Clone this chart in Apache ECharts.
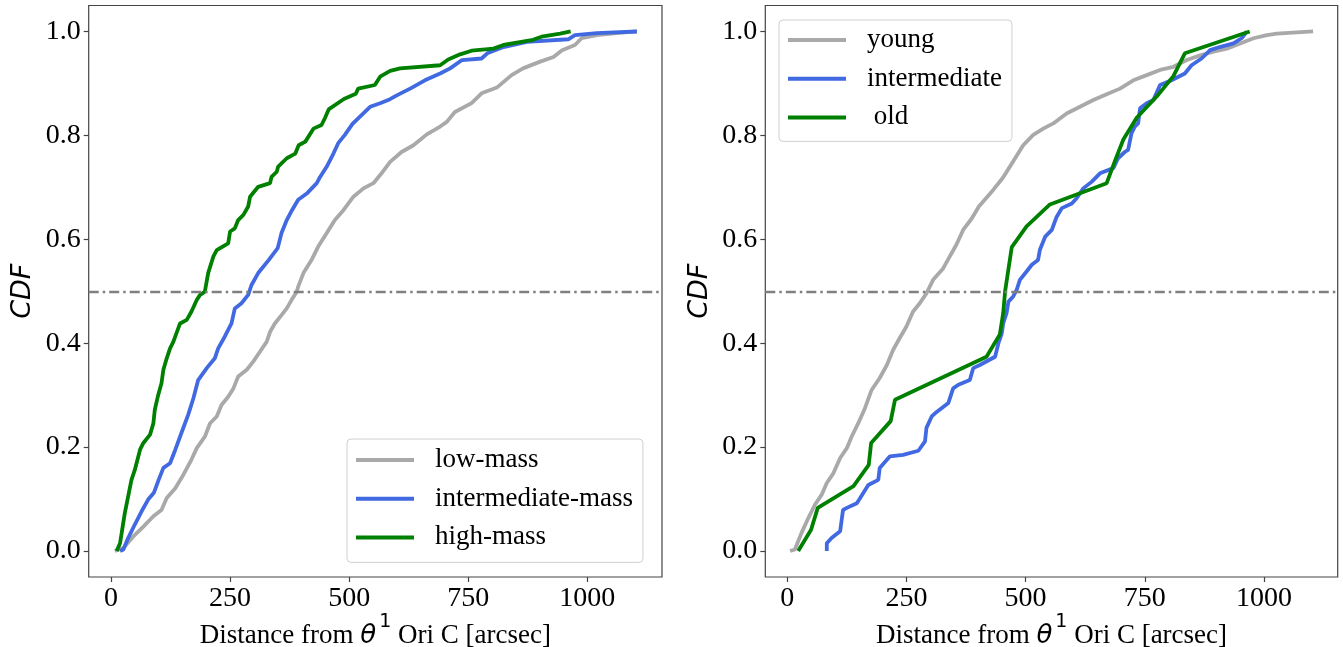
<!DOCTYPE html>
<html>
<head>
<meta charset="utf-8">
<title>CDF of distances from θ1 Ori C</title>
<script src="https://cdn.jsdelivr.net/npm/echarts@6/dist/echarts.min.js"></script>
<style>
  html, body { margin: 0; padding: 0; background: #fff; }
  #chart { width: 1343px; height: 647px; }
</style>
</head>
<body>
<div id="chart"></div>
<script>
// Tick labels
const xTicks = [0, 250, 500, 750, 1000];
const yTicks = [0.0, 0.2, 0.4, 0.6, 0.8, 1.0];

// Left panel: CDF by mass class, [distance (arcsec), CDF]
const lowMass = [[8,0],[26,0.006],[47,0.028],[68,0.047],[89,0.067],[106,0.079],[117,0.102],[135,0.121],[152,0.147],[169,0.176],[180,0.198],[197,0.220],[208,0.246],[222,0.259],[232,0.281],[246,0.297],[257,0.313],[267,0.336],[285,0.349],[299,0.365],[313,0.384],[327,0.403],[334,0.422],[344,0.438],[358,0.454],[369,0.467],[379,0.483],[390,0.499],[393,0.509],[404,0.535],[421,0.560],[435,0.586],[453,0.612],[470,0.637],[488,0.656],[509,0.682],[530,0.698],[551,0.708],[568,0.727],[586,0.749],[610,0.768],[635,0.781],[663,0.802],[691,0.817],[705,0.826],[722,0.845],[757,0.862],[778,0.881],[810,0.892],[841,0.916],[865,0.929],[901,0.942],[929,0.951],[947,0.964],[974,0.974],[988,0.987],[1020,0.993],[1062,0.997],[1104,1.0]];

const intermediateMass = [[19,0],[26,0.003],[36,0.025],[50,0.051],[64,0.076],[78,0.099],[90,0.112],[100,0.137],[110,0.160],[124,0.169],[135,0.195],[149,0.230],[162,0.262],[173,0.294],[183,0.329],[201,0.352],[218,0.371],[225,0.390],[239,0.413],[253,0.438],[260,0.467],[274,0.477],[288,0.493],[295,0.512],[309,0.535],[331,0.560],[350,0.583],[358,0.612],[369,0.637],[380,0.656],[393,0.676],[411,0.688],[432,0.708],[439,0.720],[453,0.740],[467,0.765],[477,0.785],[491,0.801],[507,0.822],[526,0.839],[544,0.855],[565,0.862],[582,0.868],[600,0.877],[630,0.891],[659,0.906],[691,0.919],[712,0.929],[737,0.945],[778,0.948],[790,0.958],[824,0.970],[873,0.980],[960,0.985],[974,0.993],[1020,0.997],[1104,1.0]];

const highMass = [[12,0],[19,0.015],[29,0.073],[43,0.137],[50,0.156],[61,0.195],[68,0.208],[82,0.224],[89,0.246],[92,0.272],[99,0.300],[106,0.323],[110,0.349],[117,0.371],[124,0.390],[131,0.403],[145,0.438],[159,0.445],[169,0.461],[180,0.483],[187,0.493],[197,0.499],[204,0.535],[215,0.567],[222,0.579],[246,0.592],[250,0.615],[260,0.621],[267,0.637],[278,0.647],[288,0.663],[292,0.682],[309,0.701],[334,0.708],[337,0.720],[348,0.730],[351,0.740],[369,0.756],[387,0.765],[394,0.781],[408,0.788],[425,0.813],[442,0.820],[449,0.833],[457,0.850],[489,0.870],[514,0.880],[519,0.890],[554,0.897],[565,0.913],[586,0.924],[607,0.929],[691,0.935],[708,0.946],[733,0.956],[757,0.963],[803,0.967],[824,0.974],[886,0.984],[904,0.990],[943,0.996],[965,1.0]];

// Right panel: CDF by age class
const young = [[6,0],[16,0.003],[30,0.035],[44,0.063],[58,0.089],[72,0.108],[83,0.131],[97,0.150],[111,0.179],[125,0.198],[135,0.220],[149,0.246],[163,0.275],[177,0.310],[194,0.333],[209,0.358],[222,0.387],[236,0.410],[250,0.432],[264,0.461],[278,0.477],[292,0.496],[306,0.522],[327,0.544],[341,0.567],[355,0.590],[369,0.618],[387,0.640],[402,0.663],[432,0.695],[452,0.718],[474,0.750],[495,0.781],[516,0.801],[537,0.813],[558,0.823],[586,0.842],[614,0.855],[642,0.868],[670,0.879],[698,0.890],[726,0.906],[754,0.916],[782,0.926],[810,0.932],[838,0.945],[866,0.954],[894,0.961],[922,0.967],[950,0.977],[978,0.987],[1006,0.993],[1027,0.996],[1103,1.0]];

const intermediateAge = [[83,0],[83,0.015],[93,0.025],[111,0.038],[117,0.079],[125,0.083],[146,0.092],[153,0.102],[170,0.127],[191,0.137],[194,0.160],[215,0.182],[243,0.185],[275,0.193],[289,0.211],[292,0.237],[303,0.259],[310,0.265],[338,0.285],[348,0.313],[359,0.320],[383,0.329],[390,0.352],[404,0.358],[436,0.374],[443,0.400],[450,0.419],[453,0.438],[460,0.458],[464,0.480],[474,0.490],[481,0.502],[488,0.522],[502,0.538],[513,0.551],[526,0.560],[530,0.580],[541,0.605],[555,0.618],[565,0.643],[576,0.660],[597,0.669],[607,0.679],[621,0.698],[639,0.711],[656,0.727],[684,0.737],[694,0.756],[708,0.768],[715,0.772],[722,0.804],[729,0.817],[736,0.823],[740,0.852],[754,0.862],[768,0.868],[782,0.897],[806,0.906],[834,0.919],[848,0.935],[869,0.948],[887,0.964],[907,0.970],[936,0.977],[953,0.987],[964,1.0]];

const old = [[23,0],[50,0.041],[64,0.083],[139,0.125],[171,0.166],[176,0.208],[217,0.250],[226,0.291],[418,0.374],[446,0.417],[453,0.458],[457,0.500],[471,0.585],[502,0.625],[551,0.667],[670,0.708],[687,0.750],[705,0.792],[733,0.834],[775,0.875],[810,0.914],[834,0.958],[970,1.0]];

const medianLevel = 0.5;

const GRAY = '#a9a9a9', BLUE = '#4169e1', GREEN = '#008000';
const SERIF = 'Liberation Serif';

const chart = echarts.init(document.getElementById('chart'), null, { renderer: 'canvas' });

function xAxisFor(gridIndex, min, max) {
  return {
    gridIndex, type: 'value', min, max,
    name: '{a|Distance from }{t|θ}{s|1}{a| Ori C [arcsec]}',
    nameLocation: 'middle', nameGap: 36, nameMoveOverlap: false,
    nameTextStyle: {
      rich: {
        a: { fontFamily: SERIF, fontSize: 27, color: '#000', lineHeight: 46 },
        t: { fontFamily: 'DejaVu Sans', fontStyle: 'italic', fontSize: 26, color: '#000', lineHeight: 46 },
        s: { fontFamily: 'DejaVu Sans', fontSize: 19, color: '#000', lineHeight: 20, verticalAlign: 'top', padding: [0, 0, 0, 3] }
      }
    },
    axisLine: { show: false, onZero: false },
    axisTick: { show: true, inside: false, length: 5, lineStyle: { color: '#444', width: 1.2 }, customValues: xTicks },
    axisLabel: { show: true, customValues: xTicks, fontFamily: SERIF, fontSize: 28, color: '#000', margin: 8,
      formatter: v => String(v) },
    splitLine: { show: false }
  };
}
function yAxisFor(gridIndex) {
  return {
    gridIndex, type: 'value', min: -0.05, max: 1.05,
    name: 'CDF', nameLocation: 'middle', nameGap: 52, nameRotate: 90, nameMoveOverlap: false,
    nameTextStyle: { fontFamily: 'DejaVu Sans', fontStyle: 'italic', fontSize: 27, color: '#000' },
    axisLine: { show: false, onZero: false },
    axisTick: { show: true, inside: false, length: 5, lineStyle: { color: '#444', width: 1.2 }, customValues: yTicks },
    axisLabel: { show: true, customValues: yTicks, fontFamily: SERIF, fontSize: 28, color: '#000', margin: 8,
      formatter: v => v.toFixed(1) },
    splitLine: { show: false }
  };
}
function curve(name, data, color, idx) {
  return {
    name, type: 'line', data, xAxisIndex: idx, yAxisIndex: idx,
    color, symbol: 'none', showSymbol: false, smooth: false,
    lineStyle: { color, width: 3.8 }, emphasis: { disabled: true }, animation: false
  };
}
function medianLine(idx) {
  return {
    type: 'line', data: [], xAxisIndex: idx, yAxisIndex: idx, animation: false,
    markLine: {
      silent: true, symbol: 'none', label: { show: false },
      lineStyle: { color: '#808080', width: 2.4, type: [10, 4, 2.5, 4] },
      data: [{ yAxis: medianLevel }], animation: false
    }
  };
}
const legendBase = {
  orient: 'vertical', icon: 'rect', itemWidth: 58, itemHeight: 4, itemGap: 8.7,
  backgroundColor: 'rgba(255,255,255,0.8)', borderColor: '#d0d0d0', borderWidth: 1, borderRadius: 4,
  textStyle: { fontFamily: SERIF, fontSize: 27, color: '#000', lineHeight: 30, padding: [0, 0, 0, 16] },
  selectedMode: false
};
const gridBase = { top: 5.5, height: 571.5, show: true, borderColor: '#444', borderWidth: 1.2,
  containLabel: false, outerBoundsMode: 'none' };

chart.setOption({
  backgroundColor: '#fff',
  animation: false,
  grid: [
    Object.assign({}, gridBase, { left: 88.7, width: 573.3 }),
    Object.assign({}, gridBase, { left: 765.3, width: 572.4 })
  ],
  xAxis: [xAxisFor(0, -46.8, 1156.8), xAxisFor(1, -46, 1154.6)],
  yAxis: [yAxisFor(0), yAxisFor(1)],
  legend: [
    Object.assign({}, legendBase, { left: 347, top: 439, padding: [6, 10, 10, 9],
      data: ['low-mass', 'intermediate-mass', 'high-mass'] }),
    Object.assign({}, legendBase, { left: 779, top: 20, padding: [5, 10, 9, 9],
      data: ['young', 'intermediate', ' old'] })
  ],
  series: [
    curve('low-mass', lowMass, GRAY, 0),
    curve('intermediate-mass', intermediateMass, BLUE, 0),
    curve('high-mass', highMass, GREEN, 0),
    medianLine(0),
    curve('young', young, GRAY, 1),
    curve('intermediate', intermediateAge, BLUE, 1),
    curve(' old', old, GREEN, 1),
    medianLine(1)
  ]
});
</script>
</body>
</html>
